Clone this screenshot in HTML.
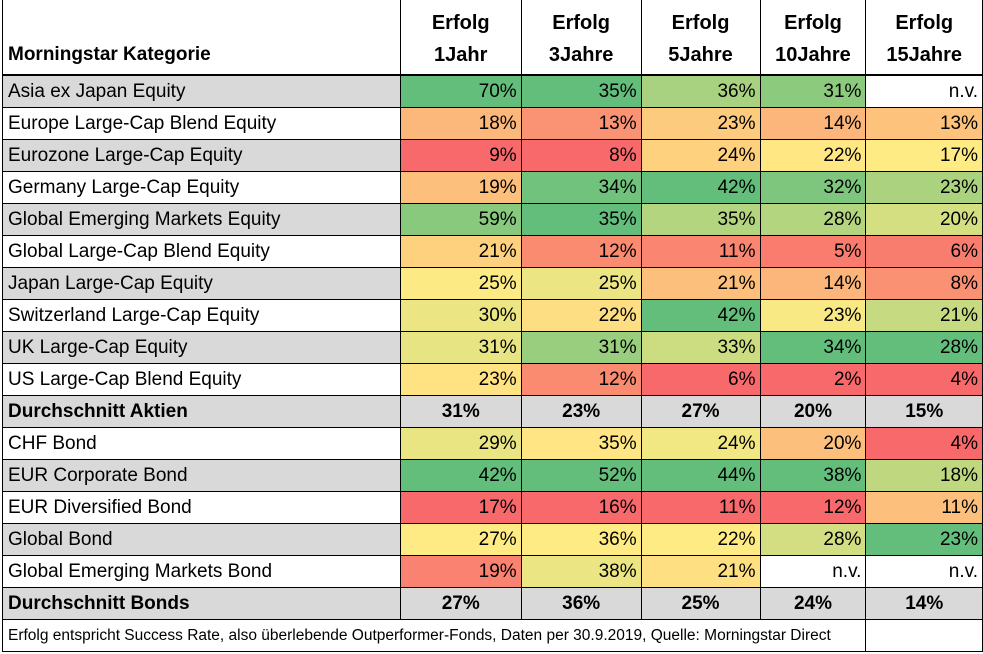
<!DOCTYPE html>
<html><head><meta charset="utf-8">
<style>
body{margin:0;width:983px;height:654px;background:#fff;overflow:hidden;font-family:"Liberation Sans",sans-serif;}
table{position:absolute;left:2px;top:0;border-collapse:collapse;table-layout:fixed;}
td{border:1px solid #000;height:31px;padding:0 4px;font-size:19px;color:#000;white-space:nowrap;overflow:hidden;text-align:right;}
td.l{text-align:left;padding-left:5px;}
tr.h td{height:67px;font-weight:bold;font-size:20px;text-align:center;vertical-align:top;line-height:32px;padding-top:7px;padding-bottom:0;border-top:none;border-bottom:2px solid #000;}
tr.h td.l{text-align:left;vertical-align:bottom;padding-bottom:3px;padding-top:0;font-size:19px;}
tr.g td.l{background:#d9d9d9;}
tr.avg td{background:#d9d9d9;font-weight:bold;text-align:center;}
tr.avg td.l{text-align:left;}
tr.f td{font-size:15.5px;height:31px;}
</style></head><body>
<table id="t">
<colgroup><col style="width:398px"><col style="width:121px"><col style="width:120px"><col style="width:119px"><col style="width:106px"><col style="width:117px"></colgroup>
<tr class="h"><td class="l">Morningstar Kategorie</td><td>Erfolg<br>1Jahr</td><td>Erfolg<br>3Jahre</td><td>Erfolg<br>5Jahre</td><td>Erfolg<br>10Jahre</td><td>Erfolg<br>15Jahre</td></tr>
</table>
<script>
var eq=[["Asia ex Japan Equity",70,35,36,31,null],["Europe Large-Cap Blend Equity",18,13,23,14,13],["Eurozone Large-Cap Equity",9,8,24,22,17],["Germany Large-Cap Equity",19,34,42,32,23],["Global Emerging Markets Equity",59,35,35,28,20],["Global Large-Cap Blend Equity",21,12,11,5,6],["Japan Large-Cap Equity",25,25,21,14,8],["Switzerland Large-Cap Equity",30,22,42,23,21],["UK Large-Cap Equity",31,31,33,34,28],["US Large-Cap Blend Equity",23,12,6,2,4]];
var bd=[["CHF Bond",29,35,24,20,4],["EUR Corporate Bond",42,52,44,38,18],["EUR Diversified Bond",17,16,11,12,11],["Global Bond",27,36,22,28,23],["Global Emerging Markets Bond",19,38,21,null,null]];
var R=[248,105,107],Y=[255,235,132],G=[99,190,123];
function mix(a,b,t){return "rgb("+a.map(function(v,i){return Math.round(v+(b[i]-v)*t)}).join(",")+")";}
function med(s){var n=s.length;return n%2?s[(n-1)/2]:(s[n/2-1]+s[n/2])/2;}
function color(v,vals){var s=vals.filter(function(x){return x!=null}).sort(function(a,b){return a-b});var mn=s[0],mx=s[s.length-1],m=med(s);
 if(v<=m)return mix(R,Y,m==mn?1:(v-mn)/(m-mn));return mix(Y,G,mx==m?1:(v-m)/(mx-m));}
var t=document.getElementById("t"),idx=0;
function addGroup(rows){for(var r=0;r<rows.length;r++){var tr=document.createElement("tr");if(idx%2==0)tr.className="g";idx++;
 var h='<td class="l">'+rows[r][0]+'</td>';
 for(var c=1;c<=5;c++){var v=rows[r][c];if(v==null){h+='<td>n.v.</td>';}else{var col=rows.map(function(x){return x[c]});h+='<td style="background:'+color(v,col)+'">'+v+'%</td>';}}
 tr.innerHTML=h;t.appendChild(tr);}}
function addAvg(name,vals){var tr=document.createElement("tr");tr.className="avg";idx++;var h='<td class="l">'+name+'</td>';vals.forEach(function(v){h+='<td>'+v+'%</td>'});tr.innerHTML=h;t.appendChild(tr);}
addGroup(eq);addAvg("Durchschnitt Aktien",[31,23,27,20,15]);
addGroup(bd);addAvg("Durchschnitt Bonds",[27,36,25,24,14]);
var f=document.createElement("tr");f.className="f";f.innerHTML='<td class="l" colspan="5">Erfolg entspricht Success Rate, also überlebende Outperformer-Fonds, Daten per 30.9.2019, Quelle: Morningstar Direct</td><td></td>';t.appendChild(f);
</script>
</body></html>
